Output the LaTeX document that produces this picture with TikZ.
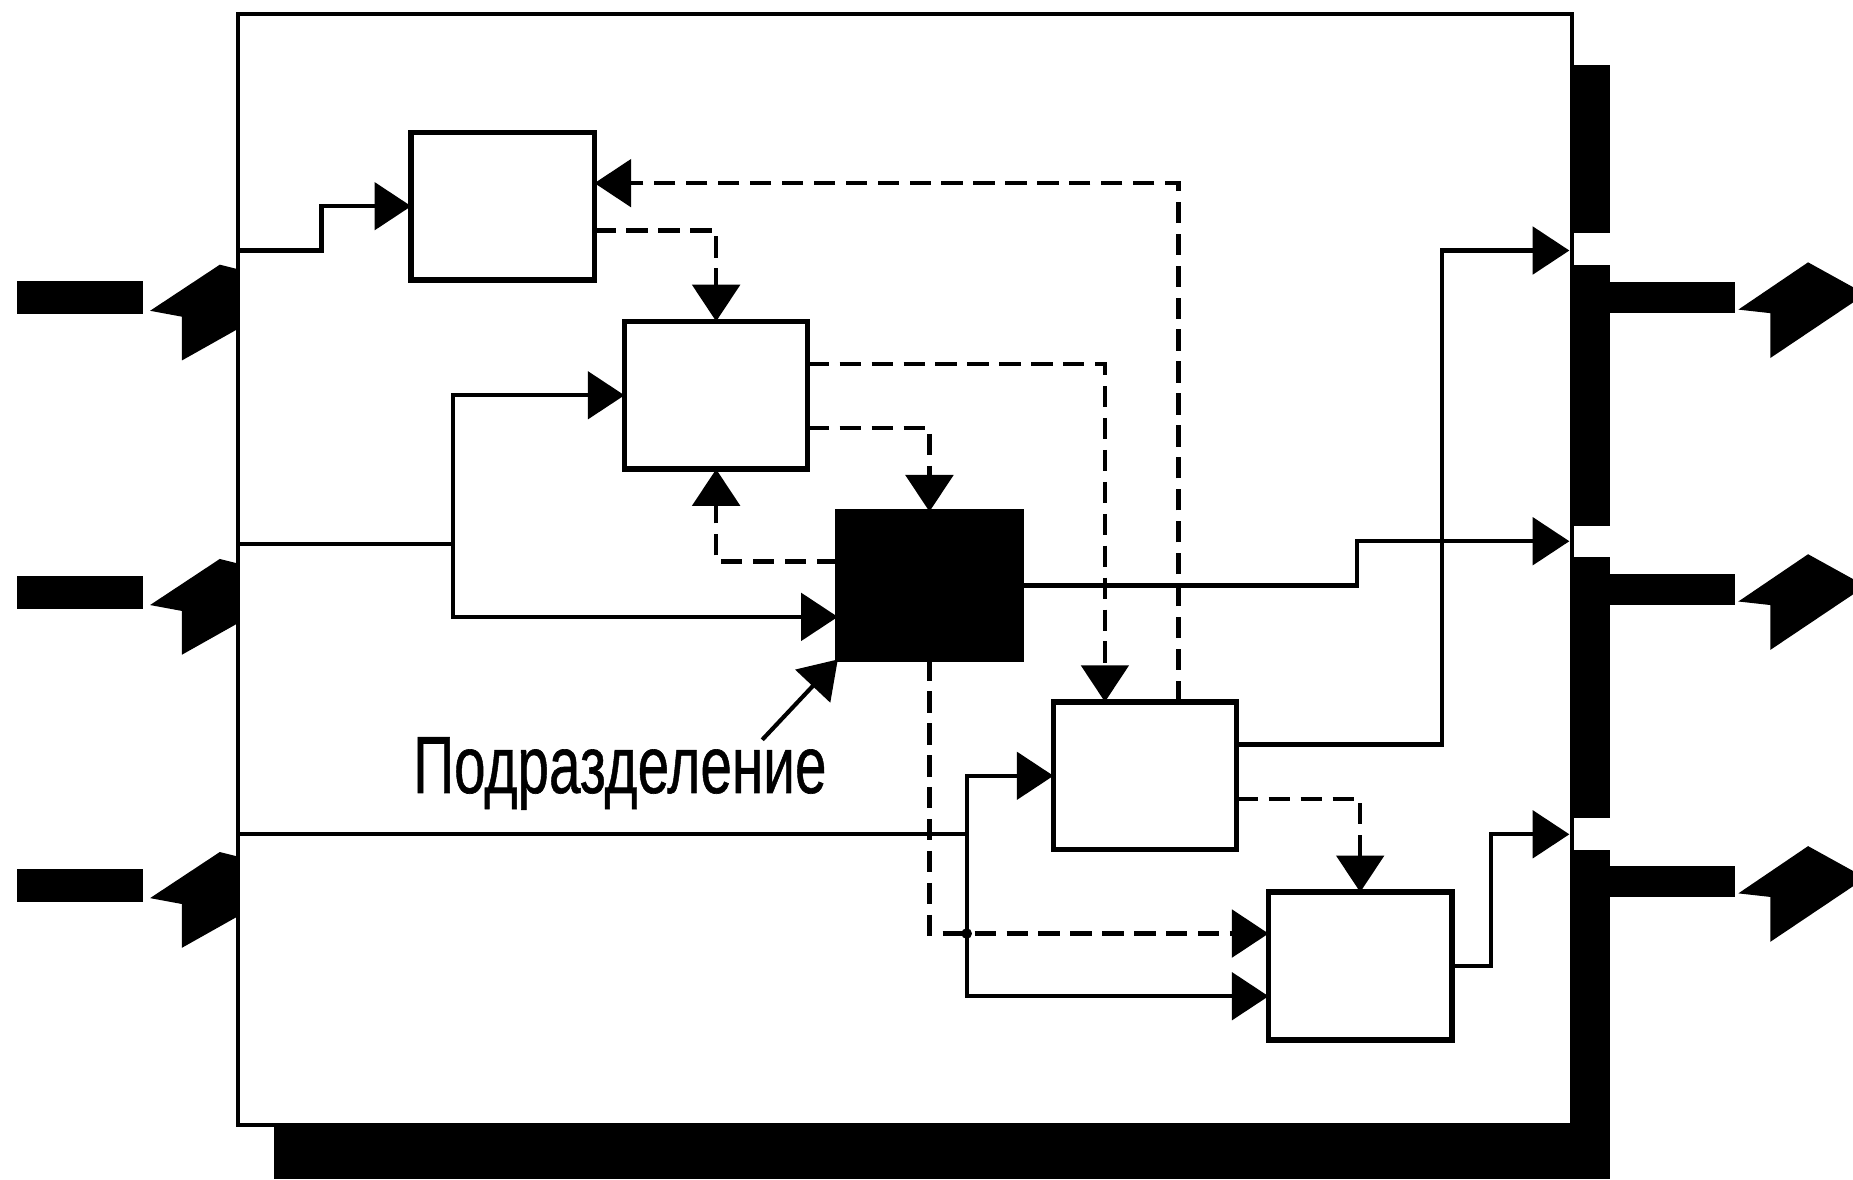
\documentclass[tikz,border=0pt]{standalone}
\usepackage{fontspec}
\setmainfont{Liberation Sans}
\newfontfamily\lblfont{Liberation Sans}[FakeBold=0.8]
\usetikzlibrary{arrows.meta}
\begin{document}
\begin{tikzpicture}[x=0.01cm,y=-0.01cm,
  box/.style={draw=black,line width=1.3pt,fill=white,minimum width=1.55cm,minimum height=1.25cm,inner sep=0pt,outer sep=0pt},
  blackbox/.style={box,fill=black},
  frm/.style={draw=black,line width=0.9pt,minimum width=11.28cm,minimum height=9.40cm,inner sep=0pt,outer sep=0pt},
  arr/.style={-{Triangle[length=0.31cm,width=0.40cm]}},
  line/.style={line width=1pt},
  conn/.style={line,arr},
  dconn/.style={line width=1.1pt,dash pattern=on 0.18cm off 0.09cm,arr},
]
\useasboundingbox (0,0) rectangle (1568,998);
% shadows
\fill (232,952) rectangle (1362,998);
\fill (1332,55) rectangle (1362,197);
\fill (1330,224) rectangle (1362,445);
\fill (1330,471) rectangle (1362,692);
\fill (1330,719) rectangle (1362,998);
% frame
\node[frm] (F) at (766,482) {};
% inputs (left)
\foreach \dy in {0,249,497}{
  \fill (14,{238+\dy}) rectangle (121,{266+\dy});
  \fill (127,{263+\dy}) -- (186,{224+\dy}) -- (202,{228+\dy}) -- (202,{278+\dy}) -- (154,{305+\dy}) -- (154,{268+\dy}) -- cycle;
}
% outputs (right)
\foreach \dy in {0,247,494}{
  \fill (1362,{239+\dy}) rectangle (1468,{265+\dy});
  \fill (1471,{262+\dy}) -- (1530,{222+\dy}) -- (1568,{243+\dy}) -- (1568,{256+\dy}) -- (1498,{303+\dy}) -- (1498,{265+\dy}) -- cycle;
}
% boxes
\node[box] (A) at (425.5,174.5) {};
\node[box] (B) at (606,334.5) {};
\node[blackbox] (C) at (786.5,495.5) {};
\node[box] (D) at (969,656.5) {};
\node[box] (E) at (1151,817.5) {};
% frame boundary points
\coordinate (L1) at (202,212);
\coordinate (L2) at (202,460);
\coordinate (L3) at (202,706);
\coordinate (R1) at (1328,212);
\coordinate (R2) at (1328,458);
\coordinate (R3) at (1328,706);
\coordinate (j1) at (383,460);
\coordinate (j2) at (818,706);
\coordinate (b9) at (1148,458);
\coordinate (b10) at (1220,212);
\coordinate (b14) at (1262,706);
\coordinate (lblp) at (645,626);
% connectors
\draw[conn] (L1) -- ++(70,0) |- (A.west);
\draw[dconn] ([xshift=0.28cm]D.north) |- ([yshift=0.195cm]A.east);
\draw[dconn] ([yshift=-0.205cm]A.east) -| (B.north);
\draw[line] (L2) -- (j1);
\draw[conn] (j1) |- (B.west);
\draw[conn] (j1) |- ([yshift=-0.265cm]C.west);
\draw[dconn] ([yshift=0.265cm]B.east) -| ([xshift=-0.34cm]D.north);
\draw[dconn] ([yshift=-0.275cm]B.east) -| (C.north);
\draw[dconn] ([yshift=0.205cm]C.west) -| (B.south);
\draw[conn] (C.east) -| (b9) -- (R2);
\draw[conn] ([yshift=0.265cm]D.east) -| (b10) -- (R1);
\draw[line] (L3) -- (j2);
\draw[conn] (j2) |- (D.west);
\draw[conn] (j2) |- ([yshift=-0.255cm]E.west);
\draw[dconn] (C.south) |- ([yshift=0.275cm]E.west);
\fill (818,790) circle (4.5);
\draw[dconn] ([yshift=-0.195cm]D.east) -| (E.north);
\draw[conn] (E.east) -| (b14) -- (R3);
% label
\node[anchor=base west,inner sep=0pt] (lbl) at (349,671) {\lblfont\fontsize{19.5}{20}\selectfont\scalebox{0.70}[1]{Подразделение}};
\draw[conn] (lblp) -- (C.south west);
\end{tikzpicture}
\end{document}
